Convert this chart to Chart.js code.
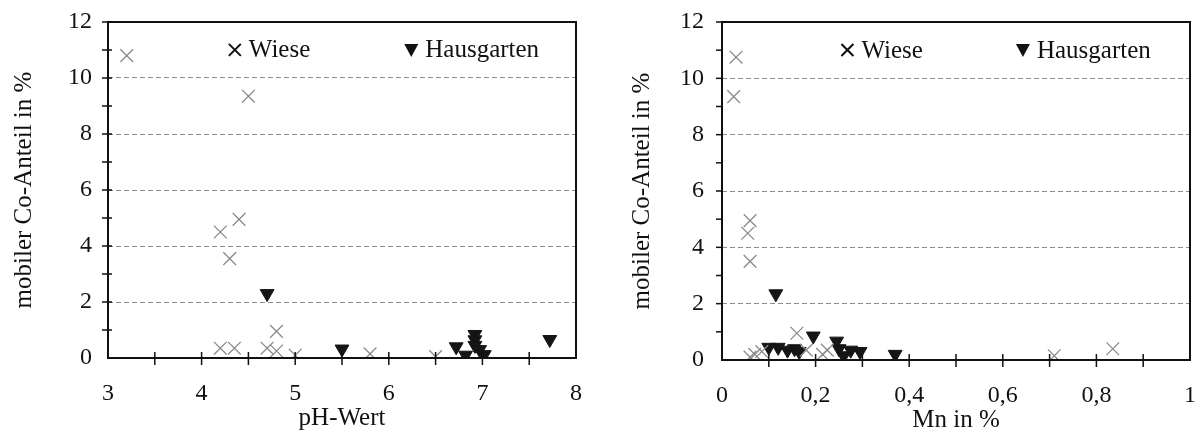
<!DOCTYPE html>
<html>
<head>
<meta charset="utf-8">
<script src="https://cdn.jsdelivr.net/npm/chart.js@4.4.1/dist/chart.umd.min.js"></script>
<style>
  html, body { margin: 0; padding: 0; background: #fff; }
  #wrap { position: relative; width: 1203px; height: 439px; }
  #chartPh { position: absolute; left: 0; top: 0; }
  #chartMn { position: absolute; left: 600px; top: 0; }
</style>
</head>
<body>
<div id="wrap">
  <canvas id="chartPh" width="600" height="439"></canvas>
  <canvas id="chartMn" width="603" height="439"></canvas>
</div>
<script>
/* Daten: pH-Wert */
const phWieseX = [3.2, 4.5, 4.4, 4.2, 4.3, 4.8, 4.2, 4.35, 4.7, 4.8, 5.0, 5.8, 6.5];
const phWieseY = [10.8, 9.35, 4.95, 4.5, 3.55, 0.95, 0.35, 0.35, 0.35, 0.25, 0.1, 0.15, 0.05];
const phHausX = [4.7, 5.5, 6.72, 6.82, 6.92, 6.92, 6.92, 6.97, 7.02, 7.72];
const phHausY = [2.3, 0.32, 0.4, 0.1, 0.84, 0.65, 0.45, 0.3, 0.12, 0.66];

/* Daten: Mn in % */
const mnWieseX = [0.03, 0.025, 0.06, 0.055, 0.06, 0.16, 0.18, 0.06, 0.07, 0.085, 0.215, 0.225, 0.71, 0.835];
const mnWieseY = [10.75, 9.35, 4.95, 4.5, 3.5, 0.95, 0.35, 0.1, 0.2, 0.3, 0.2, 0.35, 0.15, 0.4];
const mnHausX = [0.115, 0.1, 0.12, 0.14, 0.155, 0.165, 0.195, 0.245, 0.25, 0.26, 0.275, 0.295, 0.37];
const mnHausY = [2.35, 0.45, 0.45, 0.35, 0.4, 0.3, 0.85, 0.67, 0.4, 0.15, 0.35, 0.3, 0.2];

const yTicks = [0, 2, 4, 6, 8, 10, 12];
const seriesNames = ['Wiese', 'Hausgarten'];
const yTitle = 'mobiler Co-Anteil in %';

const FONT = "'Liberation Serif', 'Times New Roman', serif";

function toPoints(xs, ys) {
  let pts = [];
  for (let i = 0; i < xs.length; i++) pts.push({ x: xs[i], y: ys[i] });
  return pts;
}

/* Rahmen, Achsenstriche und Legende im Diagramm */
const framePlugin = {
  id: 'frame',
  afterDraw(chart, args, opts) {
    const { ctx, chartArea: a, scales } = chart;
    ctx.save();
    ctx.strokeStyle = '#111';
    ctx.lineWidth = 2;
    ctx.strokeRect(a.left, a.top, a.right - a.left, a.bottom - a.top);

    // Striche an der x-Achse
    ctx.lineWidth = 1.5;
    scales.x.ticks.forEach((t) => {
      const px = scales.x.getPixelForValue(t.value);
      if (Math.abs(px - a.left) < 2 || Math.abs(px - a.right) < 2) return;
      ctx.beginPath();
      ctx.moveTo(px, a.bottom - 6);
      ctx.lineTo(px, a.bottom + 7);
      ctx.stroke();
    });
    // Striche an der y-Achse
    scales.y.ticks.forEach((t) => {
      const py = scales.y.getPixelForValue(t.value);
      if (Math.abs(py - a.bottom) < 2) return;
      ctx.beginPath();
      ctx.moveTo(a.left - 6, py);
      ctx.lineTo(a.left + opts.inner, py);
      ctx.stroke();
    });

    // Legende
    const ly = a.top + (a.bottom - a.top) * 0.083;
    const x1 = a.left + (a.right - a.left) * opts.pos[0];
    const x2 = a.left + (a.right - a.left) * opts.pos[1];
    ctx.strokeStyle = '#111';
    ctx.lineWidth = 2;
    ctx.beginPath();
    ctx.moveTo(x1 - 6, ly - 6); ctx.lineTo(x1 + 6, ly + 6);
    ctx.moveTo(x1 + 6, ly - 6); ctx.lineTo(x1 - 6, ly + 6);
    ctx.stroke();
    ctx.fillStyle = '#111';
    ctx.beginPath();
    ctx.moveTo(x2 - 7, ly - 6); ctx.lineTo(x2 + 7, ly - 6); ctx.lineTo(x2, ly + 7);
    ctx.closePath();
    ctx.fill();
    ctx.font = '25px ' + FONT;
    ctx.textBaseline = 'middle';
    ctx.textAlign = 'left';
    ctx.fillText(seriesNames[0], x1 + 14, ly + 1);
    ctx.fillText(seriesNames[1], x2 + 14, ly + 1);
    ctx.restore();
  }
};

function makeChart(id, wiese, haus, xCfg, layout) {
  const el = document.getElementById(id);
  return new Chart(el, {
    type: 'scatter',
    plugins: [framePlugin],
    data: {
      datasets: [
        {
          label: seriesNames[0],
          data: wiese,
          pointStyle: 'crossRot',
          radius: 9,
          hoverRadius: 9,
          borderColor: '#8a8a8a',
          borderWidth: 1.3,
        },
        {
          label: seriesNames[1],
          data: haus,
          pointStyle: 'triangle',
          rotation: 180,
          radius: 8,
          hoverRadius: 8,
          backgroundColor: '#151515',
          borderColor: '#151515',
          borderWidth: 1,
        },
      ],
    },
    options: {
      responsive: false,
      animation: false,
      events: [],
      layout: { padding: layout.padding },
      scales: {
        x: {
          type: 'linear',
          min: xCfg.min,
          max: xCfg.max,
          afterFit: (s) => { s.height = layout.xHeight; },
          afterBuildTicks: (s) => {
            let t = [];
            for (let i = 0; i <= xCfg.steps; i++) t.push({ value: xCfg.min + i * (xCfg.max - xCfg.min) / xCfg.steps });
            s.ticks = t;
          },
          ticks: {
            autoSkip: false,
            maxRotation: 0,
            padding: 0,
            color: '#111',
            font: { family: FONT, size: 24 },
            callback: xCfg.label,
          },
          grid: {
            display: true,
            drawOnChartArea: false,
            drawTicks: true,
            tickLength: 21,
            tickColor: 'rgba(0,0,0,0)',
          },
          border: { display: false },
          title: {
            display: true,
            text: xCfg.title,
            color: '#111',
            font: { family: FONT, size: 25 },
            padding: { top: 0, bottom: layout.xTitlePad },
          },
        },
        y: {
          type: 'linear',
          min: 0,
          max: 12,
          afterFit: (s) => { s.width = layout.yWidth; },
          afterBuildTicks: (s) => {
            let t = [];
            for (let v = 0; v <= 12; v++) t.push({ value: v });
            s.ticks = t;
          },
          ticks: {
            autoSkip: false,
            padding: 0,
            color: '#111',
            font: { family: FONT, size: 24 },
            callback: (v) => (yTicks.indexOf(v) >= 0 ? v : ''),
          },
          grid: {
            drawTicks: true,
            tickLength: layout.yPad,
            tickColor: 'rgba(0,0,0,0)',
            lineWidth: 1,
            color: (c) => (c.tick && c.tick.value % 2 === 0 && c.tick.value > 0 && c.tick.value < 12 ? '#8c8c8c' : 'rgba(0,0,0,0)'),
          },
          border: { display: false, dash: [5, 3] },
          title: {
            display: true,
            text: yTitle,
            color: '#111',
            font: { family: FONT, size: 25 },
            padding: { top: layout.titlePad, bottom: 0 },
          },
        },
      },
      plugins: {
        legend: { display: false },
        tooltip: { enabled: false },
        frame: layout.frame,
      },
    },
  });
}

makeChart('chartPh', toPoints(phWieseX, phWieseY), toPoints(phHausX, phHausY),
  {
    min: 3, max: 8, steps: 10, title: 'pH-Wert',
    label: (v) => (Number.isInteger(v) ? v : ''),
  },
  {
    padding: { left: 0, top: 22, right: 24, bottom: 0 },
    xHeight: 81, xTitlePad: 6, yWidth: 108, yPad: 16, titlePad: 9,
    frame: { pos: [0.271, 0.648], inner: 4 },
  });

makeChart('chartMn', toPoints(mnWieseX, mnWieseY), toPoints(mnHausX, mnHausY),
  {
    min: 0, max: 1, steps: 10, title: 'Mn in %',
    label: (v) => {
      const r = Math.round(v * 10);
      return r % 2 === 0 ? String(r / 10).replace('.', ',') : '';
    },
  },
  {
    padding: { left: 0, top: 22, right: 13, bottom: 0 },
    xHeight: 79, xTitlePad: 4, yWidth: 122, yPad: 18, titlePad: 27,
    frame: { pos: [0.268, 0.643], inner: 0 },
  });
</script>
</body>
</html>
